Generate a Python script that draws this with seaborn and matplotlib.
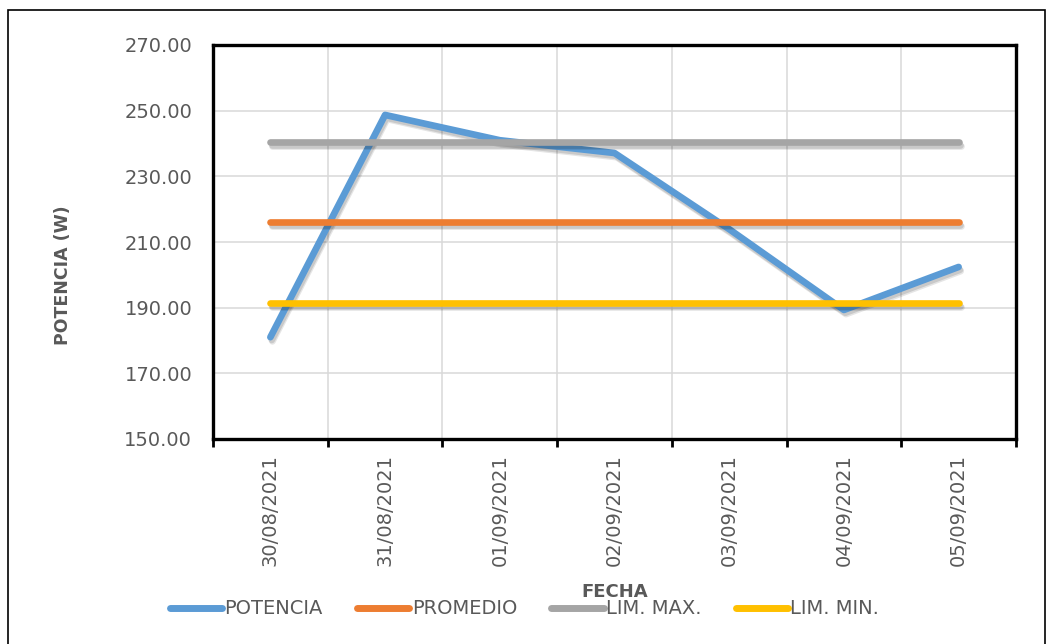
import matplotlib
matplotlib.use("Agg")
import matplotlib.pyplot as plt
import matplotlib.patheffects as pe
from matplotlib.patches import Rectangle
from matplotlib.lines import Line2D
from matplotlib.ticker import FixedLocator, FormatStrFormatter
import seaborn as sns
import pandas as pd

# Daily power readings and their control limits
fechas = ["30/08/2021", "31/08/2021", "01/09/2021", "02/09/2021",
          "03/09/2021", "04/09/2021", "05/09/2021"]
potencia = [181.0, 248.7, 241.0, 237.1, 213.9, 189.3, 202.4]
promedio = [216.1, 216.1, 216.1, 216.1, 216.1, 216.1, 216.1]
lim_max = [240.5, 240.5, 240.5, 240.5, 240.5, 240.5, 240.5]
lim_min = [191.4, 191.4, 191.4, 191.4, 191.4, 191.4, 191.4]

series = ["POTENCIA", "PROMEDIO", "LIM. MAX.", "LIM. MIN."]
colores = ["#5B9BD5", "#ED7D31", "#A5A5A5", "#FFC000"]

df = pd.concat([
    pd.DataFrame({"FECHA": fechas, "valor": v, "serie": s})
    for s, v in zip(series, [potencia, promedio, lim_max, lim_min])
], ignore_index=True)

sns.set_theme(style="white")
plt.rcParams["font.family"] = ["DejaVu Sans"]
texto = "#595959"

fig = plt.figure(figsize=(10.5, 6.44), dpi=100)
ax = fig.add_axes([213 / 1050, 1 - 439 / 644, 803 / 1050, 394 / 644])

sns.lineplot(data=df, x="FECHA", y="valor", hue="serie", hue_order=series,
             palette=colores, linewidth=4.8, ax=ax, legend=False, sort=False)

# Soft drop shadow under every series
sombra = [pe.SimpleLineShadow(offset=(1.5, -3.0), shadow_color="black", alpha=0.10),
          pe.SimpleLineShadow(offset=(1.0, -2.0), shadow_color="black", alpha=0.12),
          pe.Normal()]
for ln in ax.get_lines():
    ln.set_solid_capstyle("round")
    ln.set_solid_joinstyle("round")
    ln.set_path_effects(sombra)

# Axes ranges and ticks
ax.set_xlim(-0.5, len(fechas) - 0.5)
ax.set_ylim(150, 270)
ax.set_yticks(range(150, 271, 20))
ax.yaxis.set_major_formatter(FormatStrFormatter("%.2f"))
ax.xaxis.set_minor_locator(FixedLocator([i - 0.5 for i in range(len(fechas) + 1)]))

ax.grid(False)
ax.yaxis.grid(True, which="major", color="#D9D9D9", linewidth=1.1)
ax.xaxis.grid(True, which="minor", color="#D9D9D9", linewidth=1.1)
ax.set_axisbelow(True)

for sp in ax.spines.values():
    sp.set_color("black")
    sp.set_linewidth(2.4)

ax.tick_params(axis="x", which="major", length=0, pad=11, labelsize=14,
               labelcolor=texto, labelrotation=90)
ax.tick_params(axis="x", which="minor", bottom=True, length=6, width=2, color="black")
ax.tick_params(axis="y", which="major", left=False, length=0, pad=15,
               labelsize=14, labelcolor=texto)

ax.set_xlabel("FECHA", fontsize=13, fontweight="bold", color=texto)
ax.set_ylabel("POTENCIA (W)", fontsize=12.5, fontweight="bold", color=texto)
ax.xaxis.set_label_coords(0.5, -0.365)
ax.yaxis.set_label_coords(-0.175, 0.415)

# Legend below the chart
handles = [Line2D([0], [0], color=c, linewidth=5, solid_capstyle="round") for c in colores]
fig.legend(handles, series, loc="center", bbox_to_anchor=(0.4995, 1 - 609 / 644),
           ncol=4, frameon=False, fontsize=14, handlelength=2.7,
           handletextpad=0.12, columnspacing=1.75, labelcolor=texto)

# Outer chart border
fig.patches.append(Rectangle((8 / 1050, -0.02), 1037 / 1050, 1.02 - 10 / 644,
                             transform=fig.transFigure, fill=False,
                             edgecolor="black", linewidth=1.2))

fig.savefig("out.png", dpi=100)
